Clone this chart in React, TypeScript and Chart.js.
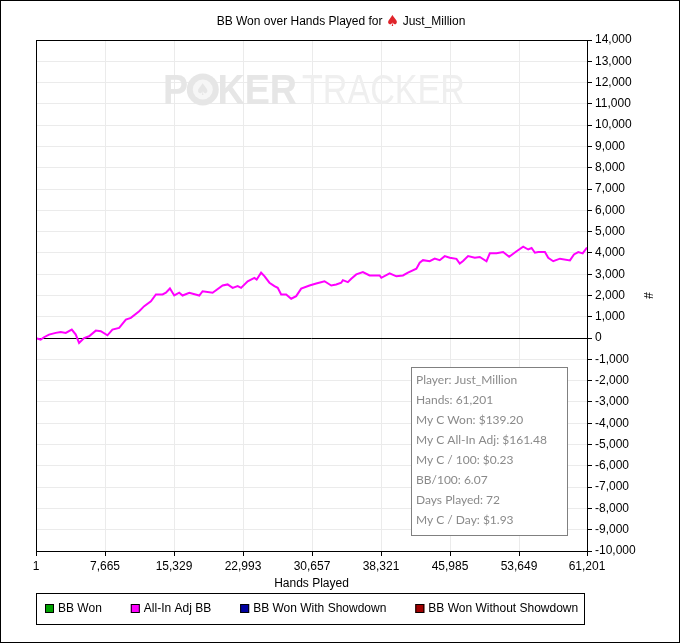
import React, { useEffect, useRef } from "react";
import { Chart, registerables } from "chart.js";
Chart.register(...registerables);

// ---- data ----
const hands = [
  1, 524, 891, 1447, 2193, 2749, 3306, 3973, 4418, 4786, 5342, 5898, 6644, 7200, 7935, 8491,
  9237, 9982, 10538, 11464, 12020, 12763, 13320, 14054, 14432, 14877, 15356, 15912, 16280,
  17025, 18138, 18505, 19618, 20730, 21287, 21843, 22400, 22778, 23513, 24258, 24514, 25004,
  25371, 25928, 26484, 26851, 27230, 27786, 28343, 28899, 29455, 30379, 31124, 32047, 32793,
  33349, 33905, 34084, 34640, 35018, 35574, 36309, 37054, 38167, 38356, 39279, 40024, 40759,
  41315, 42250, 42617, 42984, 43730, 44286, 44843, 45399, 45955, 46701, 47068, 47436, 47992,
  48738, 49294, 50039, 50407, 51152, 51887, 52554, 53378, 54112, 54669, 55047, 55414, 55781,
  56527, 56894, 57450, 58196, 59309, 59754, 60232, 60722, 61201,
];
const allInAdjBB = [
  0, -70, 40, 165, 245, 290, 245, 400, 165, -230, 0, 85, 350, 320, 130, 400,
  480, 870, 950, 1260, 1500, 1730, 2050, 2050, 2130, 2330, 2000, 2130, 2000,
  2130, 2000, 2200, 2130, 2470, 2520, 2360, 2440, 2360, 2670, 2830, 2750, 3070,
  2910, 2600, 2440, 2360, 2050, 2050, 1850, 1970, 2320, 2470, 2560, 2670, 2470,
  2520, 2600, 2720, 2630, 2790, 2990, 3100, 2940, 2940, 2830, 3040, 2900, 2940,
  3070, 3260, 3540, 3660, 3610, 3730, 3660, 3850, 3770, 3720, 3500, 3620, 3850,
  3770, 3810, 3610, 3980, 3980, 4040, 3820, 4080, 4290, 4160, 4230, 4010, 4040,
  4040, 3770, 3610, 3730, 3650, 3930, 4040, 3980, 4250,
];
const seriesLabels = ["BB Won", "All-In Adj BB", "BB Won With Showdown", "BB Won Without Showdown"];
const seriesColors = ["#00a000", "#ff00ff", "#0000a0", "#a00000"];
const xTicks = [1, 7665, 15329, 22993, 30657, 38321, 45985, 53649, 61201];
const yMin = -10000;
const yMax = 14000;
const yStep = 1000;
const titleText = "BB Won over Hands Played for";
const playerName = "Just_Million";
const xTitle = "Hands Played";
const yTitle = "#";
const infoLines = [
  "Player: Just_Million",
  "Hands: 61,201",
  "My C Won: $139.20",
  "My C All-In Adj: $161.48",
  "My C / 100: $0.23",
  "BB/100: 6.07",
  "Days Played: 72",
  "My C / Day: $1.93",
];

const FONT = "'Liberation Sans', Arial, sans-serif";
const fmt = (v: number) => Number(v).toLocaleString("en-US");

const decorPlugin = {
  id: "decor",
  beforeDraw(chart: any) {
    const ctx = chart.ctx;
    ctx.save();
    ctx.fillStyle = "#ffffff";
    ctx.fillRect(0, 0, chart.width, chart.height);
    ctx.restore();
  },
  beforeDatasetsDraw(chart: any) {
    // watermark
    const ctx = chart.ctx;
    ctx.save();
    ctx.textBaseline = "alphabetic";
    ctx.font = `bold 42px ${FONT}`;
    const pw = ctx.measureText("POKER").width;
    const sx1 = 134 / pw;
    ctx.save();
    ctx.translate(163, 104);
    ctx.scale(sx1, 1);
    ctx.fillStyle = "#e6e6e6";
    ctx.fillText("P", 0, 0);
    const pW = ctx.measureText("P").width;
    const oW = ctx.measureText("O").width;
    ctx.fillText("KER", pW + oW, 0);
    ctx.restore();
    // chip O
    const cx = 163 + (pW + oW / 2) * sx1;
    const cy = 89.5;
    ctx.fillStyle = "#e6e6e6";
    ctx.beginPath();
    ctx.arc(cx, cy, 16, 0, Math.PI * 2);
    ctx.fill();
    ctx.fillStyle = "#f6f6f6";
    ctx.beginPath();
    ctx.arc(cx, cy, 10, 0, Math.PI * 2);
    ctx.fill();
    ctx.fillStyle = "#e6e6e6";
    ctx.font = "16px 'DejaVu Sans'";
    ctx.textAlign = "center";
    ctx.textBaseline = "middle";
    ctx.fillText("\u2660", cx, cy + 1);
    // TRACKER
    ctx.textAlign = "left";
    ctx.textBaseline = "alphabetic";
    ctx.font = `42px ${FONT}`;
    const tw = ctx.measureText("TRACKER").width;
    ctx.save();
    ctx.translate(302, 104);
    ctx.scale(163 / tw, 1);
    ctx.fillStyle = "#efefef";
    ctx.fillText("TRACKER", 0, 0);
    ctx.restore();
    ctx.restore();
  },
  afterDraw(chart: any) {
    const ctx = chart.ctx;
    const a = chart.chartArea;
    ctx.save();
    // plot frame
    ctx.strokeStyle = "#000";
    ctx.lineWidth = 1;
    ctx.strokeRect(a.left + 0.5, a.top + 0.5, a.right - a.left, a.bottom - a.top);
    // outer frame
    ctx.strokeRect(0.5, 0.5, chart.width - 2, chart.height - 1);

    // title
    ctx.textBaseline = "middle";
    ctx.textAlign = "left";
    ctx.font = `12px ${FONT}`;
    const t1 = titleText + " ";
    const w1 = ctx.measureText(t1).width;
    const t2 = " " + playerName;
    const w2 = ctx.measureText(t2).width;
    ctx.font = "15px 'DejaVu Sans'";
    const ws = ctx.measureText("\u2660").width;
    const total = w1 + ws + w2;
    let x = 341 - total / 2;
    const ty = 22;
    ctx.font = `12px ${FONT}`;
    ctx.fillStyle = "#000";
    ctx.fillText(t1, x, ty);
    x += w1;
    ctx.font = "15px 'DejaVu Sans'";
    ctx.fillStyle = "#e0242a";
    ctx.fillText("\u2660", x, ty);
    x += ws;
    ctx.font = `12px ${FONT}`;
    ctx.fillStyle = "#000";
    ctx.fillText(t2, x, ty);

    // info box
    ctx.fillStyle = "#ffffff";
    ctx.fillRect(412, 367, 156, 169);
    ctx.strokeStyle = "#808080";
    ctx.strokeRect(411.5, 367.5, 156, 168);
    ctx.fillStyle = "#8a8a8a";
    ctx.font = "12px Lato";
    ctx.textBaseline = "middle";
    infoLines.forEach((s, i) => ctx.fillText(s, 416, 380 + i * 20));

    // legend
    ctx.strokeStyle = "#000";
    ctx.strokeRect(36.5, 593.5, 548, 31);
    ctx.font = `12px ${FONT}`;
    const ds = chart.data.datasets;
    const gap = 28;
    const widths = ds.map((d: any) => 14 + ctx.measureText(d.label).width);
    const tot = widths.reduce((s: number, w: number) => s + w, 0) + gap * (ds.length - 1);
    let lx = Math.round(312 - tot / 2);
    ds.forEach((d: any, i: number) => {
      ctx.fillStyle = seriesColors[i];
      ctx.fillRect(lx, 604, 9, 9);
      ctx.strokeStyle = "#000";
      ctx.strokeRect(lx + 0.5, 604.5, 8, 8);
      ctx.fillStyle = "#000";
      ctx.textBaseline = "middle";
      ctx.fillText(d.label, lx + 13, 609);
      lx += widths[i] + gap;
    });
    ctx.restore();
  },
};

export default function App() {
  const ref = useRef<HTMLCanvasElement | null>(null);
  useEffect(() => {
    if (!ref.current) return;
    const points = hands.map((h, i) => ({ x: h, y: allInAdjBB[i] }));
    const chart = new Chart(ref.current, {
      type: "line",
      data: {
        datasets: seriesLabels.map((label, i) => ({
          label,
          data: i === 1 ? points : [],
          borderColor: seriesColors[i],
          backgroundColor: seriesColors[i],
          borderWidth: 2,
          pointRadius: 0,
          tension: 0,
          fill: false,
        })),
      },
      options: {
        animation: false,
        responsive: false,
        events: [],
        layout: { padding: { left: 36, top: 40, right: 0, bottom: 50 } },
        plugins: {
          legend: { display: false },
          title: { display: false },
          tooltip: { enabled: false },
        },
        scales: {
          x: {
            type: "linear",
            min: xTicks[0],
            max: xTicks[xTicks.length - 1],
            afterBuildTicks: (scale: any) => {
              scale.ticks = xTicks.map((v) => ({ value: v }));
            },
            afterFit: (scale: any) => {
              scale.height = 42;
            },
            ticks: {
              autoSkip: false,
              maxRotation: 0,
              padding: 3,
              color: "#000",
              font: { family: FONT, size: 12 },
              callback: (v: any) => fmt(v),
            },
            grid: { color: "#ebebeb", tickColor: "#000", tickLength: 5, drawTicks: true },
            border: { display: true, color: "#000" },
            title: {
              display: true,
              text: xTitle,
              color: "#000",
              font: { family: FONT, size: 12 },
              padding: { top: 0, bottom: 2 },
            },
          },
          y: {
            type: "linear",
            position: "right",
            min: yMin,
            max: yMax,
            afterFit: (scale: any) => {
              scale.width = 94;
            },
            ticks: {
              stepSize: yStep,
              autoSkip: false,
              padding: 3,
              color: "#000",
              font: { family: FONT, size: 12 },
              callback: (v: any) => fmt(v),
            },
            grid: {
              color: (c: any) => (c.tick && c.tick.value === 0 ? "#000" : "#ebebeb"),
              tickColor: "#000",
              tickLength: 5,
            },
            border: { display: true, color: "#000" },
            title: {
              display: true,
              text: yTitle,
              color: "#000",
              font: { family: FONT, size: 12 },
              padding: { top: 26, bottom: 0 },
            },
          },
        },
      },
      plugins: [decorPlugin],
    });
    return () => chart.destroy();
  }, []);
  return (
    <div style={{ position: "absolute", left: 0, top: 0, width: 681, height: 643 }}>
      <canvas ref={ref} width={681} height={643} style={{ width: 681, height: 643, display: "block" }} />
    </div>
  );
}
